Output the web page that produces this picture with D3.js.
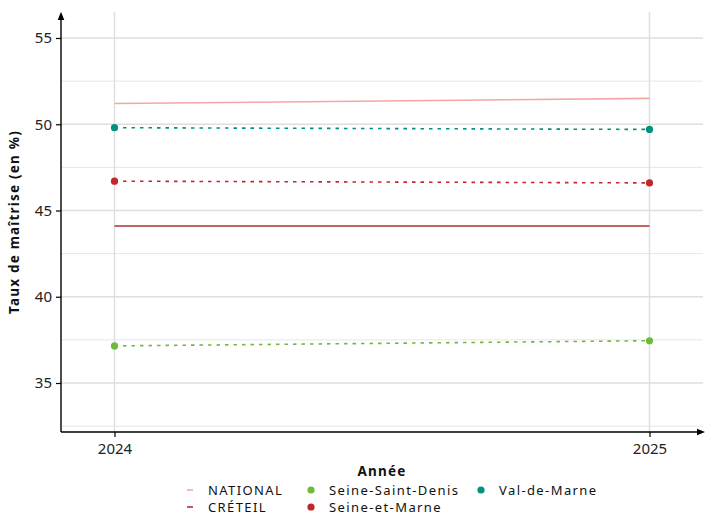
<!DOCTYPE html>
<html><head><meta charset="utf-8">
<script src="https://cdn.jsdelivr.net/npm/d3@7"></script>
<style>body{margin:0;background:#fff}text{font-family:"Noto Sans",Lato,sans-serif}</style>
</head><body><svg id="c" width="705" height="515"></svg>
<script>
const years = [2024, 2025];
const seriesNames = ["NATIONAL", "CRÉTEIL", "Seine-Saint-Denis", "Seine-et-Marne", "Val-de-Marne"];
const national = [51.2, 51.5];
const creteil = [44.1, 44.1];
const seineSaintDenis = [37.15, 37.45];
const seineEtMarne = [46.7, 46.6];
const valDeMarne = [49.8, 49.7];
const yTicks = [35, 40, 45, 50, 55];
const yMinor = [32.5, 37.5, 42.5, 47.5, 52.5];

const series = [
  {name:"NATIONAL", values:national, color:"#f4a6a3", dash:null, point:false, width:1.6},
  {name:"CRÉTEIL", values:creteil, color:"#a8322c", dash:null, point:false, width:1.6},
  {name:"Seine-Saint-Denis", values:seineSaintDenis, color:"#6dbb3c", dash:"3.5,5", point:true, width:1.6},
  {name:"Seine-et-Marne", values:seineEtMarne, color:"#c1272d", dash:"3.5,5", point:true, width:1.6},
  {name:"Val-de-Marne", values:valDeMarne, color:"#00917f", dash:"3.5,5", point:true, width:1.6}
];

const svg = d3.select("#c");
const L = 61, R = 703, T = 12, B = 432;
const x = d3.scaleLinear().domain([2023.9, 2025.1]).range([L, R]);
const y = d3.scaleLinear().domain([35 - (432-383)/17.25, 55 + (38-12)/17.25]).range([B, T]);

// grid
const g = svg.append("g");
g.selectAll(".mi").data(yMinor).join("line").attr("x1",L).attr("x2",R).attr("y1",d=>y(d)).attr("y2",d=>y(d)).attr("stroke","#e6e6e6").attr("stroke-width",1);
g.selectAll(".ma").data(yTicks).join("line").attr("x1",L).attr("x2",R).attr("y1",d=>y(d)).attr("y2",d=>y(d)).attr("stroke","#dedede").attr("stroke-width",1.4);
g.selectAll(".vx").data(years).join("line").attr("x1",d=>x(d)).attr("x2",d=>x(d)).attr("y1",T).attr("y2",B).attr("stroke","#dedede").attr("stroke-width",1.4);

// lines
const line = d3.line().x((d,i)=>x(years[i])).y(d=>y(d));
series.forEach(s=>{
  svg.append("path").datum(s.values).attr("d",line).attr("fill","none")
    .attr("stroke",s.color).attr("stroke-width",s.width).attr("stroke-dasharray",s.dash);
  if(s.point){
    svg.selectAll(null).data(s.values).join("circle").attr("cx",(d,i)=>x(years[i])).attr("cy",d=>y(d)).attr("r",3.6).attr("fill",s.color);
  }
});

// axes
const defs = svg.append("defs");
defs.append("marker").attr("id","arr").attr("viewBox","0 0 10 10").attr("refX",5).attr("refY",5)
  .attr("markerWidth",6).attr("markerHeight",6).attr("orient","auto")
  .append("path").attr("d","M0,1 L10,5 L0,9 z").attr("fill","#000");
svg.append("line").attr("x1",L).attr("x2",L).attr("y1",B).attr("y2",T+4).attr("stroke","#000").attr("stroke-width",1.4).attr("marker-end","url(#arr)");
svg.append("line").attr("x1",L).attr("x2",R-2).attr("y1",B).attr("y2",B).attr("stroke","#000").attr("stroke-width",1.4).attr("marker-end","url(#arr)");

const ya = svg.append("g").attr("transform",`translate(${L},0)`)
  .call(d3.axisLeft(y).tickValues(yTicks).tickSize(5).tickPadding(4));
ya.select(".domain").remove();
ya.selectAll("line").attr("stroke","#000").attr("stroke-width",1.2);
ya.selectAll("text").attr("font-size",15).attr("fill","#222").attr("font-family","Noto Sans");

const xa = svg.append("g").attr("transform",`translate(0,${B})`)
  .call(d3.axisBottom(x).tickValues(years).tickFormat(d3.format("d")).tickSize(5).tickPadding(6));
xa.select(".domain").remove();
xa.selectAll("line").attr("stroke","#000").attr("stroke-width",1.2);
xa.selectAll("text").attr("font-size",15).attr("fill","#222").attr("font-family","Noto Sans");

svg.append("text").attr("transform",`translate(19,${(T+B)/2}) rotate(-90)`).attr("text-anchor","middle")
  .attr("font-size",13.5).attr("font-weight","bold").attr("letter-spacing",1.2).attr("fill","#111").text("Taux de maîtrise (en %)");
svg.append("text").attr("x",(L+R)/2).attr("y",476).attr("text-anchor","middle")
  .attr("font-size",13.5).attr("font-weight","bold").attr("letter-spacing",1.2).attr("fill","#111").text("Année");

// legend
const legPos = [[190,490],[190,507],[311,490],[311,507],[481,490]];
series.forEach((s,i)=>{
  const [lx,ly] = legPos[i];
  if(s.point) svg.append("circle").attr("cx",lx).attr("cy",ly).attr("r",3.6).attr("fill",s.color);
  else svg.append("line").attr("x1",lx-3).attr("x2",lx+3).attr("y1",ly).attr("y2",ly).attr("stroke",s.color).attr("stroke-width",1.6);
  svg.append("text").attr("x",lx+18).attr("y",ly+4.5).attr("font-size",13).attr("font-family","DejaVu Sans")
    .attr("letter-spacing",1.4).attr("fill","#111").text(s.name);
});
</script></body></html>
